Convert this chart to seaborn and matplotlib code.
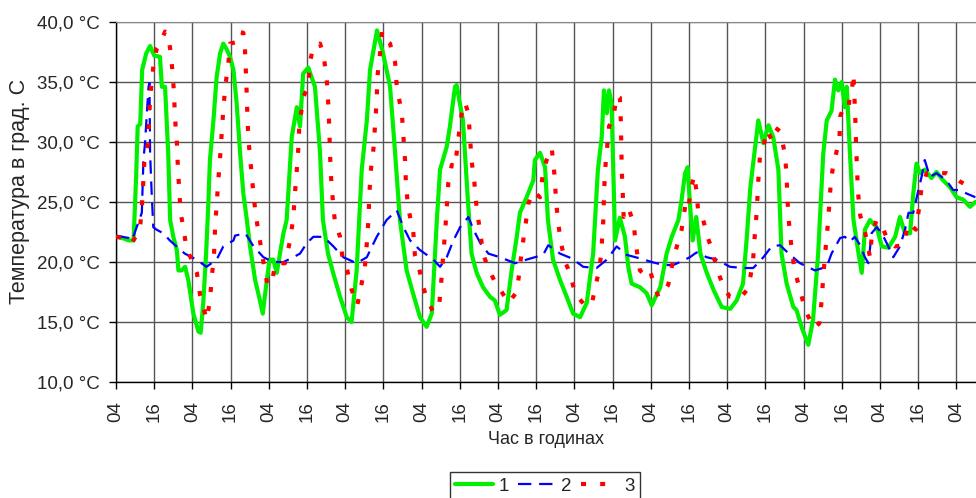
import numpy as np
import pandas as pd
import matplotlib
matplotlib.use("Agg")
import matplotlib.pyplot as plt
from matplotlib.ticker import FuncFormatter, MultipleLocator
import seaborn as sns

# ==========================================
# 1. DATA (hours from 04:00 of day 1, temperature in deg C)
# ==========================================
g_hours = [0, 2, 4, 5.5, 6.3, 6.8, 7.6, 8.2, 9.5, 10.7, 12, 13.8, 14.4, 15.4, 16.4, 17, 18, 19.1,
           19.6, 20.6, 21.7, 22.7, 24.3, 25.9, 26.6, 27.4, 28.3, 29, 29.5, 30.6, 31.6, 32.7, 33.7,
           34.8, 35.8, 36.9, 37.9, 39, 40, 41.1, 42.1, 43.7, 45.2, 46.1, 47.1, 48.2, 49.4, 50.5,
           51.5, 52.6, 53.6, 55.2, 56.8, 57.8, 58.8, 60.4, 62.5, 64.1, 65, 66.6, 68.2, 70.4, 72.5,
           74, 75.6, 77.2, 78.8, 79.8, 82, 83.9, 86.1, 87.7, 89.2, 91.3, 93.3, 95.5, 97.6, 99.2,
           100.8, 101.8, 103.9, 104.9, 106.5, 107, 109, 110.6, 111.7, 113.3, 115.3, 117.5, 119,
           120.6, 122.7, 124.3, 125.9, 126.9, 129, 131.1, 131.6, 133.2, 134.8, 135.7, 137.3, 139.5,
           141.6, 143.6, 145.8, 147.9, 149.9, 151.4, 152.6, 153.3, 154.2, 154.9, 155.7, 156.8,
           158.3, 159.9, 161, 162, 164.6, 166.7, 168.3, 171, 173, 174.6, 176.7, 177.7, 178.8, 179.6,
           180.3, 181.2, 182.3, 183.6, 185.6, 187.7, 190.3, 193, 195, 197, 198.2, 199.3, 200.8,
           201.8, 203.4, 205, 206.5, 208.1, 209.1, 210.7, 212.8, 213.8, 215.5, 217.5, 219, 220.6,
           222.2, 223.3, 224.8, 225.9, 226.9, 228, 229, 229.6, 230.6, 231.7, 233.3, 234.3, 235.3,
           236.9, 239, 240.6, 242.7, 244.8, 246.3, 247.9, 249.5, 250.5, 251.5, 252.6, 254.1, 256.2,
           257.8, 259.9, 262, 264.1, 266.2, 268.3, 270]
g_temp = [22.1, 22.0, 21.8, 21.8, 27.0, 31.3, 31.5, 36.0, 37.4, 38.0, 37.2, 37.1, 34.6, 34.6, 29.0,
          23.5, 22.1, 21.0, 19.3, 19.3, 19.6, 18.5, 15.7, 14.2, 14.1, 16.6, 20.7, 24.9, 28.5, 31.8,
          35.4, 37.4, 38.2, 37.7, 37.1, 36.0, 33.2, 29.0, 25.7, 23.5, 21.3, 18.5, 16.8, 15.7, 17.9,
          20.2, 20.2, 19.1, 20.7, 22.4, 23.5, 30.4, 32.9, 31.3, 35.7, 36.2, 34.6, 29.1, 23.5, 20.7,
          19.1, 17.1, 15.4, 15.0, 19.3, 27.7, 31.8, 36.0, 39.3, 37.4, 34.6, 29.0, 23.5, 19.3, 17.4,
          15.4, 14.6, 15.7, 23.5, 27.7, 29.6, 31.3, 34.6, 34.75, 31.8, 24.9, 20.7, 19.1, 17.9, 17.1,
          16.8, 15.6, 16.0, 19.3, 22.1, 24.1, 25.4, 26.8, 28.5, 29.1, 27.9, 23.5, 20.2, 18.5, 17.1,
          15.7, 15.4, 16.6, 20.7, 27.7, 30.4, 34.3, 32.4, 34.3, 33.2, 21.8, 23.7, 22.1, 19.5, 18.2,
          17.9, 17.4, 16.4, 17.9, 20.7, 22.1, 23.5, 25.2, 27.4, 27.9, 24.9, 21.8, 23.75, 20.7, 19.1,
          17.7, 16.25, 16.1, 16.8, 18.2, 22.1, 26.25, 29.6, 31.8, 29.9, 31.4, 30.4, 27.7, 20.7, 18.2,
          16.25, 16.0, 14.5, 13.1, 15.2, 20.7, 29.0, 31.8, 32.6, 35.2, 34.3, 35.0, 32.9, 34.6, 29.0,
          23.5, 20.7, 19.1, 22.7, 23.5, 22.9, 21.3, 21.2, 22.1, 23.75, 22.4, 22.4, 25.7, 28.2, 27.4,
          27.7, 27.0, 27.5, 26.8, 26.25, 25.4, 25.2, 24.6, 25.0]

b_hours = [0, 4, 5, 8.1, 8.6, 9.1, 10.2, 10.5, 10.7, 11.2, 11.7, 12.7, 14.8, 16.9, 19, 21.6, 25.3,
           28.4, 31.6, 33.7, 36.9, 37.4, 40.6, 43.2, 46.3, 49.4, 52.6, 55.7, 57.8, 60, 62, 65.2,
           68.3, 71.4, 75.6, 78.8, 81.9, 85, 88.2, 90.3, 92.4, 95.5, 99.7, 101.8, 103.9, 106,
           108.1, 110.7, 112.3, 114.4, 117, 120.6, 125.4, 129, 134.2, 135.8, 139.5, 143.2, 146.8,
           151, 154.2, 157.3, 160.4, 164.6, 168.3, 172, 175.1, 177.2, 180.3, 182.4, 185.6, 188.7,
           192.9, 197.1, 200.2, 203.4, 206, 208.6, 211.8, 214.9, 219.6, 223.3, 224.8, 227.5, 229,
           230.6, 232.1, 233.8, 235.3, 236.4, 237.4, 239, 240.6, 242.1, 244.2, 246.3, 247.9, 249,
           250.5, 252.1, 253.1, 254.1, 255.7, 257.8, 260.9, 263, 265.2, 267.3, 270]
b_temp = [22.2, 22.0, 21.8, 24.1, 28.5, 29.9, 34.6, 34.9, 29.0, 25.7, 22.9, 22.7, 22.4, 21.8, 21.3,
          20.7, 20.2, 19.6, 20.2, 21.3, 21.8, 22.2, 22.4, 21.3, 20.4, 20.0, 20.0, 20.4, 20.7, 21.6,
          22.1, 22.1, 21.3, 20.4, 19.9, 20.4, 22.1, 23.5, 24.3, 22.9, 21.8, 21.0, 20.2, 19.6, 20.4,
          21.8, 22.9, 23.75, 22.7, 21.6, 20.7, 20.4, 19.9, 20.2, 20.6, 21.4, 20.7, 20.3, 19.6, 19.5,
          20.2, 21.3, 20.6, 20.3, 20.0, 19.75, 19.75, 20.0, 20.4, 20.8, 20.4, 20.2, 19.6, 19.5, 19.5,
          20.4, 21.3, 21.4, 20.6, 19.9, 19.3, 19.6, 20.7, 22.0, 22.1, 21.7, 22.1, 21.4, 20.4, 19.9,
          22.4, 22.9, 22.4, 21.6, 20.4, 21.3, 22.7, 24.1, 24.1, 26.0, 27.1, 28.5, 27.1, 27.4, 26.8,
          26.0, 26.0, 25.7, 25.4]

r_hours = [0, 3, 5, 7.5, 8.1, 8.6, 8.9, 10.1, 10.4, 10.7, 11.7, 12.8, 13.8, 15.4, 16.1, 17, 17.7,
           18.2, 18.5, 19.1, 19.4, 19.8, 20.3, 21.2, 22.2, 23.8, 25.4, 26.4, 27.4, 28.5, 29.5, 30.1,
           30.8, 31.1, 31.6, 32.1, 32.7, 33.2, 33.7, 34.3, 35.3, 35.8, 37.4, 38.4, 40, 40.5, 40.8,
           41.1, 41.3, 41.7, 42.4, 43.1, 43.9, 45, 46.3, 47.5, 48.9, 50, 51.5, 53.1, 54.7, 55.7,
           56.2, 56.8, 57.3, 57.6, 58.3, 58.8, 60.4, 60.9, 62, 64.1, 65.2, 66.2, 66.7, 67, 67.2,
           67.5, 68.1, 68.8, 70.4, 71.2, 72.5, 74, 75.8, 78.2, 78.8, 79.3, 79.6, 80, 80.9, 81.4,
           81.9, 82.1, 83, 83.6, 84.6, 86.1, 86.7, 87.7, 88.2, 89, 89.8, 90.3, 90.8, 91.1, 91.8,
           93.4, 93.9, 95, 96.5, 98.1, 99.7, 101.6, 102.3, 102.8, 103.4, 104.4, 105.5, 106.5, 107.6,
           108.6, 109.6, 110.7, 111.2, 111.7, 112.6, 113.3, 114.4, 115.4, 117, 119.1, 121.2, 123.3,
           125.9, 126.6, 127.5, 128.5, 129.6, 131.1, 133.2, 134.1, 135.3, 136.9, 137.7, 138.2,
           138.8, 139.8, 141.1, 142.6, 144.2, 146.3, 147.4, 149.4, 150.5, 152, 152.6, 153.1, 153.3,
           153.6, 154.2, 154.9, 156.3, 157.3, 158.3, 158.6, 158.9, 159.5, 161, 162.6, 163.4, 164.6,
           166.2, 167.8, 168.8, 170.4, 172, 173.5, 174.6, 176.2, 177.7, 178.8, 179.8, 180.3, 181.6,
           182.4, 183, 184.5, 185.8, 186.8, 189.2, 191.3, 192.9, 194.4, 196.5, 198.3, 199.4, 200.2,
           200.7, 201.3, 201.8, 202.3, 203.4, 204.4, 206, 207.1, 208.6, 210.2, 210.7, 211, 211.5,
           212.3, 213.3, 214.9, 216.5, 219.3, 221, 221.7, 222.2, 222.8, 223.5, 224.1, 224.6, 225.4,
           226.2, 227.3, 227.5, 228.6, 230.2, 230.6, 231.2, 231.7, 232.3, 232.5, 232.8, 233.1,
           233.8, 235.4, 236.9, 237.5, 239, 241.1, 242.7, 244.8, 247.4, 249, 251.3, 252.1, 253.1,
           254.7, 257.8, 260.9, 263, 265.2, 267.3, 270]
r_temp = [22.1, 22.0, 21.6, 22.7, 24.6, 26.8, 28.5, 29.9, 31.8, 33.75, 36.25, 37.8, 38.2, 39.2,
          39.1, 37.8, 36.0, 34.1, 32.1, 30.0, 28.1, 26.2, 24.1, 22.8, 21.0, 20.2, 19.1, 17.25,
          16.25, 15.2, 16.8, 18.75, 20.7, 22.8, 24.75, 26.7, 28.75, 30.75, 32.7, 34.6, 36.6, 38.2,
          38.3, 39.2, 39.1, 37.8, 35.7, 33.75, 31.8, 29.9, 27.9, 25.9, 23.9, 22.1, 20.0, 18.2, 18.1,
          19.9, 19.9, 19.9, 21.8, 23.75, 25.7, 27.7, 29.6, 31.5, 32.7, 33.75, 34.6, 36.6, 38.0,
          38.2, 37.25, 35.2, 33.1, 31.2, 29.2, 27.25, 25.2, 23.25, 22.1, 20.2, 19.5, 17.7, 16.4,
          19.6, 21.6, 23.5, 25.7, 27.5, 29.5, 31.5, 33.5, 35.4, 37.5, 39.2, 38.5, 38.2, 37.5, 36.6,
          34.6, 33.5, 32.4, 30.4, 28.5, 26.4, 24.5, 22.5, 20.6, 19.75, 17.9, 16.7, 15.8, 16.6,
          18.75, 20.6, 22.5, 26.6, 28.1, 27.9, 30.4, 32.4, 33.3, 32.4, 30.4, 28.5, 26.6, 24.5,
          22.5, 20.6, 19.5, 18.3, 17.5, 16.6, 17.5, 18.9, 21.0, 22.8, 24.9, 25.9, 25.4, 27.4, 28.5,
          29.5, 27.4, 25.4, 23.5, 21.6, 20.0, 19.1, 17.4, 16.7, 16.4, 16.4, 17.8, 19.6, 21.4, 23.5,
          25.4, 27.5, 29.3, 31.3, 32.1, 33.9, 33.7, 31.8, 27.7, 23.75, 24.5, 23.25, 21.3, 19.3,
          18.9, 19.3, 18.3, 17.1, 17.5, 18.1, 19.6, 21.3, 22.7, 24.6, 24.2, 25.6, 27.25, 25.9,
          23.9, 23.5, 22.1, 21.4, 19.1, 17.7, 17.1, 17.0, 17.1, 17.7, 18.9, 20.3, 22.25, 24.2,
          26.8, 28.75, 29.5, 31.0, 30.2, 31.2, 30.9, 29.0, 27.0, 25.0, 23.1, 21.0, 19.2, 17.7,
          16.0, 14.5, 14.9, 16.8, 18.75, 20.7, 22.7, 24.75, 26.7, 28.2, 29.0, 30.2, 32.1, 32.9,
          32.8, 34.2, 34.3, 35.7, 31.8, 29.9, 27.9, 25.9, 23.9, 22.4, 20.4, 22.4, 23.5, 22.7, 21.7,
          21.3, 21.4, 23.25, 22.7, 24.1, 26.2, 27.4, 27.4, 27.4, 27.1, 26.7, 26.4, 25.9]

tick_labels = ["04", "16"] * 11 + ["04"]
series_names = ["1", "2", "3"]

# ==========================================
# 2. PLOT
# ==========================================
sns.set_style("white")
plt.rcParams['font.family'] = ['Liberation Sans', 'DejaVu Sans']

fig = plt.figure(figsize=(9.76, 4.98), dpi=100)
ax = fig.add_axes([0.1189, 0.2329, 0.8811, 0.7229])

df_g = pd.DataFrame({"hour": g_hours, "temp": g_temp})
df_b = pd.DataFrame({"hour": b_hours, "temp": b_temp})
df_r = pd.DataFrame({"hour": r_hours, "temp": r_temp})

sns.lineplot(data=df_g, x="hour", y="temp", ax=ax, color="#00F000", linewidth=3.0,
             estimator=None, label=series_names[0], zorder=3)
sns.lineplot(data=df_b, x="hour", y="temp", ax=ax, color="#0000FF", linewidth=1.6,
             linestyle=(0, (6, 3.5)), estimator=None, label=series_names[1], zorder=4)
sns.lineplot(data=df_r, x="hour", y="temp", ax=ax, color="#FF0000", linewidth=3.0,
             linestyle=(0, (1.2, 3.4)), estimator=None, label=series_names[2], zorder=5)

ax.set_xlim(0, 270.2)
ax.set_ylim(10, 40)
ax.yaxis.set_major_locator(MultipleLocator(5))
ax.yaxis.set_major_formatter(FuncFormatter(lambda v, p: f"{v:.1f}".replace(".", ",") + " °C"))
ax.set_xticks(np.arange(0, 12 * len(tick_labels), 12))
ax.set_xticklabels(tick_labels, rotation=90)

ax.grid(True, color="#555555", linewidth=1.0)
ax.set_axisbelow(True)
for side in ["left", "bottom"]:
    ax.spines[side].set_color("black")
    ax.spines[side].set_linewidth(1.0)
ax.spines["top"].set_color("#888888")
ax.spines["right"].set_visible(False)
ax.tick_params(axis="both", which="major", direction="out", length=5, width=1,
               color="black", labelsize=13.5, bottom=True, left=True)
ax.tick_params(axis="x", pad=9)
ax.tick_params(axis="y", pad=7)

ax.set_xlabel("Час в годинах", fontsize=13, labelpad=6)
ax.set_ylabel("Температура в град. С", fontsize=15.5)
ax.yaxis.set_label_coords(-0.1, 0.53)

handles, labels = ax.get_legend_handles_labels()
ax.get_legend().remove()
leg = fig.legend(handles, labels, loc="upper center", bbox_to_anchor=(0.5584, 0.052), ncol=3,
                 frameon=True, fancybox=False, edgecolor="black", fontsize=13.5,
                 handlelength=2.0, handletextpad=0.3, columnspacing=0.5, borderpad=0.3,
                 borderaxespad=0)
leg.get_frame().set_linewidth(1.0)

fig.savefig("out.png", dpi=100)
